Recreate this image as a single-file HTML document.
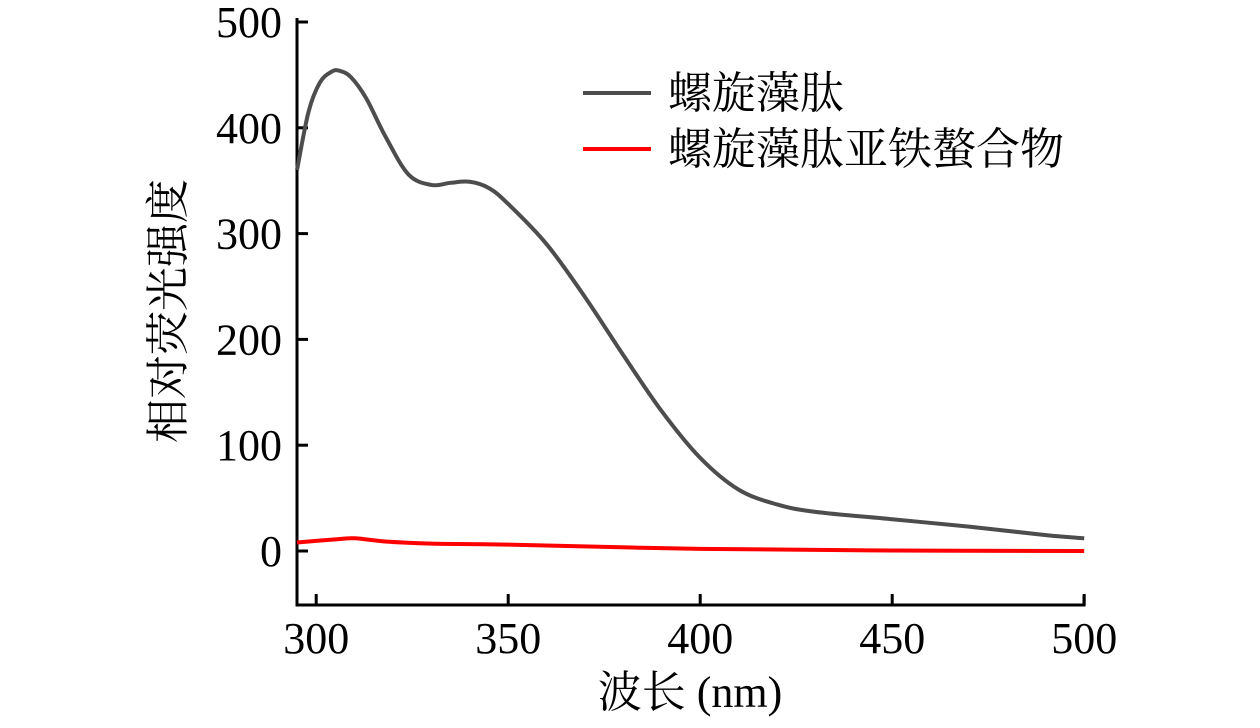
<!DOCTYPE html>
<html><head><meta charset="utf-8"><style>
body{margin:0;background:#fff}
svg text{font-family:"Liberation Serif","Noto Serif CJK SC",serif;fill:#000}
</style></head><body>
<svg width="1260" height="723">
<g id="axes"></g><g id="plot"></g>
<g>
<line x1="583" y1="93" x2="651" y2="93" stroke="#4d4d4d" stroke-width="4"/>
<text x="668" y="108" font-size="44">螺旋藻肽</text>
<line x1="583" y1="149" x2="651" y2="149" stroke="#ff0000" stroke-width="4"/>
<text x="668" y="164" font-size="44">螺旋藻肽亚铁螯合物</text>
</g>
<text x="690" y="707" font-size="44" text-anchor="middle">波长 (nm)</text>
<text transform="translate(183,311) rotate(-90)" font-size="44" text-anchor="middle">相对荧光强度</text>
</svg>
<script>
const xTicks=[300,350,400,450,500];
const yTicks=[0,100,200,300,400,500];
const wl=[295,298,301,304,306,309,313,318,324,330,335,340,345,350,360,370,380,390,400,410,420,430,450,470,490,500];
const pep=[360,415,443,453,454,448,428,392,356,346,348,349,343,328,290,240,185,132,88,58,44,37,30,23,15,12];
const wl2=[295,305,310,318,330,350,400,450,500];
const chel=[8,11,12,9,7,6,2,0.5,0];
const X=v=>297+(v-295)*3.84, Y=v=>551-v*1.058;
const NS="http://www.w3.org/2000/svg";
const ax=document.getElementById('axes'), pl=document.getElementById('plot');
function mk(t,a,p){const e=document.createElementNS(NS,t);for(const k in a)e.setAttribute(k,a[k]);p.appendChild(e);return e;}
let e=mk('path',{d:`M297,18V605H1084V595`,fill:'none',stroke:'#000','stroke-width':3},ax);


xTicks.forEach(v=>{
 let l=mk('line',{x1:X(v),x2:X(v),y1:605,y2:594,stroke:'#000','stroke-width':3},ax);
 
 
 let t=mk('text',{x:X(v),y:653,'font-size':44,'text-anchor':'middle'},ax);t.textContent=v;
 
 
});
yTicks.forEach(v=>{
 let l=mk('line',{x1:297,x2:308,y1:Y(v),y2:Y(v),stroke:'#000','stroke-width':3},ax);
 
 
 let t=mk('text',{x:282,y:Y(v)+15,'font-size':44,'text-anchor':'end'},ax);t.textContent=v;
 
 
});
function smooth(xs,ys){const p=xs.map((x,i)=>[X(x),Y(ys[i])]);let d=`M${p[0][0]},${p[0][1]}`;
 for(let i=0;i<p.length-1;i++){const p0=p[i-1]||p[i],p1=p[i],p2=p[i+1],p3=p[i+2]||p2;
 d+=`C${p1[0]+(p2[0]-p0[0])/6},${p1[1]+(p2[1]-p0[1])/6} ${p2[0]-(p3[0]-p1[0])/6},${p2[1]-(p3[1]-p1[1])/6} ${p2[0]},${p2[1]}`;}return d;}
let s1=mk('path',{d:smooth(wl,pep),fill:'none',stroke:'#4d4d4d','stroke-width':4},pl);


let s2=mk('path',{d:smooth(wl2,chel),fill:'none',stroke:'#ff0000','stroke-width':4},pl);


</script>
</body></html>
